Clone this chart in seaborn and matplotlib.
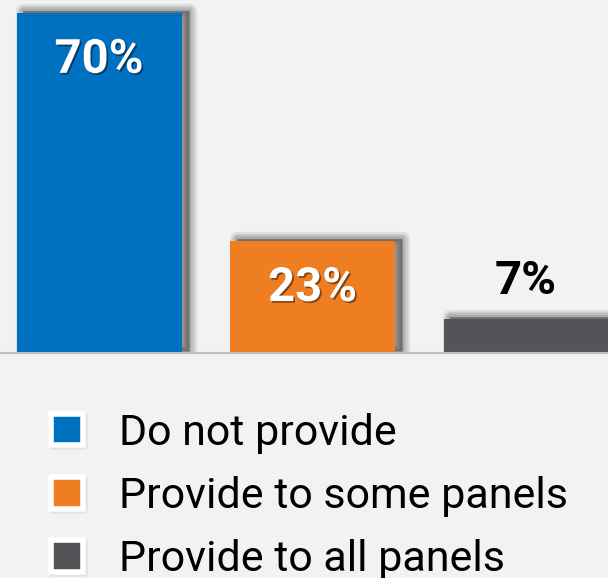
import matplotlib
matplotlib.use("Agg")
import matplotlib.pyplot as plt
import matplotlib.patheffects as pe
from matplotlib.lines import Line2D
import seaborn as sns
import pandas as pd

categories = ["Do not provide", "Provide to some panels", "Provide to all panels"]
values = [70, 23, 7]
labels = ["70%", "23%", "7%"]
colors = ["#0070c0", "#ef7d22", "#545458"]
label_colors = ["white", "white", "black"]
label_inside = [True, True, False]

BG = "#f2f2f2"


class Glow(pe.AbstractPathEffect):
    def __init__(self, offset, lw, alpha):
        super().__init__(offset=offset)
        self.lw = lw
        self.alpha = alpha

    def draw_path(self, renderer, gc, tpath, affine, rgbFace=None):
        gc0 = renderer.new_gc()
        gc0.copy_properties(gc)
        gc0.set_linewidth(self.lw)
        gc0.set_foreground((0, 0, 0))
        gc0.set_alpha(self.alpha)
        gc0.set_joinstyle("round")
        renderer.draw_path(gc0, tpath, affine + self._offset_transform(renderer), (0, 0, 0))
        gc0.restore()


def bar_shadow(offset=(5, 1.5)):
    return [Glow(offset, lw, 0.08) for lw in (11, 8, 5.5, 3, 1)] + [pe.Normal()]


sns.set_theme(style="white")
plt.rcParams["font.family"] = ["Roboto", "DejaVu Sans"]

fig = plt.figure(figsize=(6.08, 5.78), dpi=100, facecolor=BG)
ax = fig.add_axes([0, 1 - 353 / 578, 1, 353 / 578])
ax.set_facecolor(BG)

df = pd.DataFrame({"cat": categories, "val": values})
sns.barplot(data=df, x="cat", y="val", hue="cat", palette=colors, width=0.773,
            legend=False, ax=ax, linewidth=0, saturation=1)

for p in ax.patches:
    p.set_path_effects(bar_shadow())

ax.set_xlim(-0.464, 2.384)
ax.set_ylim(0, 72.7)
ax.set_xticks([])
ax.set_yticks([])
ax.set_xlabel("")
ax.set_ylabel("")
for s in ["top", "left", "right"]:
    ax.spines[s].set_visible(False)
ax.spines["bottom"].set_color("#bfbfbf")
ax.spines["bottom"].set_linewidth(1.5)
ax.spines["bottom"].set_zorder(5)

for i, (v, lab, c, inside) in enumerate(zip(values, labels, label_colors, label_inside)):
    dy = -43 if inside else 18
    effects = [pe.SimplePatchShadow(offset=(1.2, -1.2), shadow_rgbFace="black", alpha=0.45), pe.Normal()] if inside else None
    ax.annotate(lab, (i, v), xytext=(0, dy), textcoords="offset points",
                ha="center", va="baseline", fontsize=34, fontweight="bold",
                color=c, path_effects=effects)

handles = []
for cat, col in zip(categories, colors):
    h = Line2D([], [], marker="s", linestyle="", markersize=22.7,
               markerfacecolor=col, markeredgecolor="white", markeredgewidth=4,
               label=cat,
               path_effects=[Glow((0.8, -0.8), 5, 0.05), Glow((0.8, -0.8), 3, 0.07),
                             Glow((0.8, -0.8), 1.5, 0.08), pe.Normal()])
    handles.append(h)

fig.legend(handles=handles, loc="upper left",
           bbox_to_anchor=(46.2 / 608, 1 - 412.5 / 578),
           frameon=False, fontsize=31, borderpad=0, borderaxespad=0,
           handlelength=0.97, handletextpad=0.72, labelspacing=0.52,
           labelcolor="black")

fig.savefig("out.png", dpi=100, facecolor=BG)
